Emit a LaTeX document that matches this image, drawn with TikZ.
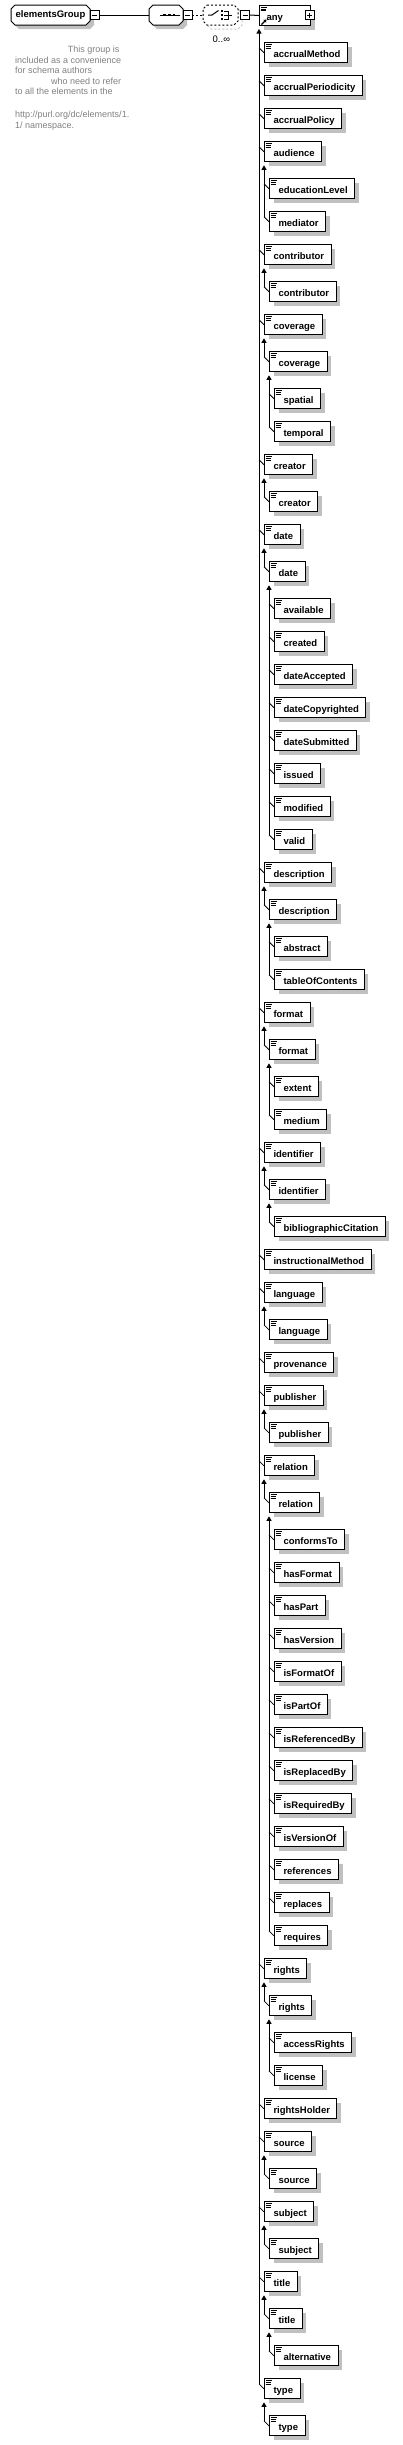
\documentclass[tikz,border=0pt]{standalone}
\usepackage{fontspec}
\setmainfont{Liberation Sans}
\usetikzlibrary{shadows,arrows.meta}
\definecolor{shadowgray}{RGB}{192,192,192}
\definecolor{notegray}{RGB}{128,128,128}
\newcommand\elemfont{\bfseries\fontsize{9.5}{11}\selectfont}
\newcommand\notefont{\fontsize{9}{11}\selectfont}
\newcommand\el[4]{\node[elem] (#1) at (#2,#3) {\hspace*{2pt}#4};
  \draw[tick] ([xshift=-5pt,yshift=-5.5pt]#1.north west) -- (#1.west);}
\newcommand\br[2]{\draw[branch] ([xshift=-5pt,yshift=-5.5pt]#2.north west) -- ([yshift=-3pt]#1.south west);}
% octagon outline: x1 y1 x2 y2 chamfer
\newcommand\octpath[5]{(#1+#5,#2) -- (#3-#5,#2) -- (#3,#2+#5) -- (#3,#4-#5) -- (#3-#5,#4) -- (#1+#5,#4) -- (#1,#4-#5) -- (#1,#2+#5) -- cycle}
\begin{document}
\begin{tikzpicture}[x=1pt,y=-1pt,line join=miter,
  elem/.style={draw, line width=1pt, fill=white, anchor=north west, inner ysep=0pt, inner xsep=7pt,
    text height=15pt, text depth=5pt, font=\elemfont,
    general shadow={fill=shadowgray, shadow xshift=4pt, shadow yshift=-4pt},
    path picture={\draw[line width=0.8pt]
      ([xshift=1pt,yshift=-1.7pt]path picture bounding box.north west) -- ++(6.5pt,0pt)
      ([xshift=1pt,yshift=-3.4pt]path picture bounding box.north west) -- ++(5.2pt,0pt)
      ([xshift=1pt,yshift=-5.1pt]path picture bounding box.north west) -- ++(5.2pt,0pt);}},
  tick/.style={line width=0.8pt},
  branch/.style={line width=1pt, -{Triangle[length=4.5pt,width=5pt]}},
  pmbox/.style={draw, fill=white, line width=0.9pt, minimum size=9pt, inner sep=0pt},
  minus/.style={pmbox, path picture={\draw[line width=0.9pt]
      ([xshift=2pt]path picture bounding box.west) -- ([xshift=-2pt]path picture bounding box.east);}},
  plus/.style={pmbox, path picture={\draw[line width=0.9pt]
      ([xshift=2pt]path picture bounding box.west) -- ([xshift=-2pt]path picture bounding box.east)
      ([yshift=-2pt]path picture bounding box.north) -- ([yshift=2pt]path picture bounding box.south);}},
  anchorbox/.style={minimum height=20pt, inner sep=0pt},
  note/.style={anchor=base west, inner sep=0pt, text=notegray, font=\notefont}
]
\useasboundingbox (0,0) rectangle (402,2445);

% top row: group
\fill[shadowgray] \octpath{15}{9}{94}{29}{4};
\draw[line width=1pt, fill=white] \octpath{11}{5}{90}{25}{4};
\node[anchorbox, minimum width=79pt, font=\elemfont] (grp) at (50.5,15) {elementsGroup};
\node[minus] (gm) at (94.5,15) {};
% sequence
\fill[shadowgray] \octpath{153}{9}{187}{29}{4};
\draw[line width=1pt, fill=white] \octpath{149}{5}{183}{25}{4};
\node[anchorbox, minimum width=34pt] (seq) at (166,15) {};
\node[minus] (sm) at (187.5,15) {};
% choice (optional -> dashed)
\draw[line width=1pt, shadowgray, dash pattern=on 2pt off 2pt] \octpath{207}{9}{242}{29}{4};
\draw[line width=1pt, fill=white, dash pattern=on 2pt off 2pt] \octpath{203}{5}{238}{25}{4};
\node[anchorbox, minimum width=35pt] (ch) at (220.5,15) {};
\node[minus] (cm) at (245,15) {};
% any
\node[elem, minimum width=51pt, text width=37pt, align=left] (any) at (259,5) {any};
\node[plus] (ap) at (309.5,15) {};
\draw[line width=1.3pt, -{Triangle[length=2.6pt,width=3.6pt]}] ([xshift=2.5pt,yshift=1.5pt]any.south west) -- ++(5pt,5pt);

\draw[line width=1pt] (gm.east) -- (seq.west);
\draw[line width=1pt, dash pattern=on 2pt off 2pt] (sm.east) -- (ch.west);
\draw[line width=1pt] (cm.east) -- (any.west);

% sequence symbol
\draw[line width=1pt] (160,15) -- (180,15);
\foreach \xx in {164.7,169.3,174}{\fill (\xx-1.4,13.6) rectangle (\xx+1.4,16.4);}
% choice symbol
\draw[line width=1pt] (208,15) -- (212,15) -- (218.5,10.5);
\foreach \yy in {11,15,19}{\fill (220.6,\yy-1.4) rectangle (223.4,\yy+1.4);}
\draw[line width=0.9pt] (224,11) -- (228,11) -- (228,19) -- (224,19) (224,15) -- (232,15);
\node[anchor=base west, inner sep=0pt, font=\fontsize{9.5}{11}\selectfont] (occ) at (212.5,42) {0..∞};

% annotation
\node[note] (n1) at (67.7,52) {This group is};
\node[note] (n2) at (15,63) {included as a convenience};
\node[note] (n3) at (15,73.5) {for schema authors};
\node[note] (n4) at (51,84) {who need to refer};
\node[note] (n5) at (15,94.5) {to all the elements in the};
\node[note] (n6) at (15,117.5) {http://purl.org/dc/elements/1.};
\node[note] (n7) at (15,128.5) {1/ namespace.};

% elements
\el{e1}{264}{42.3}{accrualMethod}
\el{e2}{264}{75.3}{accrualPeriodicity}
\el{e3}{264}{108.3}{accrualPolicy}
\el{e4}{264}{141.3}{audience}
\el{e5}{269}{178.3}{educationLevel}
\el{e6}{269}{211.3}{mediator}
\el{e7}{264}{244.3}{contributor}
\el{e8}{269}{281.3}{contributor}
\el{e9}{264}{314.3}{coverage}
\el{e10}{269}{351.3}{coverage}
\el{e11}{274}{388.3}{spatial}
\el{e12}{274}{421.3}{temporal}
\el{e13}{264}{454.3}{creator}
\el{e14}{269}{491.3}{creator}
\el{e15}{264}{524.3}{date}
\el{e16}{269}{561.3}{date}
\el{e17}{274}{598.3}{available}
\el{e18}{274}{631.3}{created}
\el{e19}{274}{664.3}{dateAccepted}
\el{e20}{274}{697.3}{dateCopyrighted}
\el{e21}{274}{730.3}{dateSubmitted}
\el{e22}{274}{763.3}{issued}
\el{e23}{274}{796.3}{modified}
\el{e24}{274}{829.3}{valid}
\el{e25}{264}{862.3}{description}
\el{e26}{269}{899.3}{description}
\el{e27}{274}{936.3}{abstract}
\el{e28}{274}{969.3}{tableOfContents}
\el{e29}{264}{1002.3}{format}
\el{e30}{269}{1039.3}{format}
\el{e31}{274}{1076.3}{extent}
\el{e32}{274}{1109.3}{medium}
\el{e33}{264}{1142.3}{identifier}
\el{e34}{269}{1179.3}{identifier}
\el{e35}{274}{1216.3}{bibliographicCitation}
\el{e36}{264}{1249.3}{instructionalMethod}
\el{e37}{264}{1282.3}{language}
\el{e38}{269}{1319.3}{language}
\el{e39}{264}{1352.3}{provenance}
\el{e40}{264}{1385.3}{publisher}
\el{e41}{269}{1422.3}{publisher}
\el{e42}{264}{1455.3}{relation}
\el{e43}{269}{1492.3}{relation}
\el{e44}{274}{1529.3}{conformsTo}
\el{e45}{274}{1562.3}{hasFormat}
\el{e46}{274}{1595.3}{hasPart}
\el{e47}{274}{1628.3}{hasVersion}
\el{e48}{274}{1661.3}{isFormatOf}
\el{e49}{274}{1694.3}{isPartOf}
\el{e50}{274}{1727.3}{isReferencedBy}
\el{e51}{274}{1760.3}{isReplacedBy}
\el{e52}{274}{1793.3}{isRequiredBy}
\el{e53}{274}{1826.3}{isVersionOf}
\el{e54}{274}{1859.3}{references}
\el{e55}{274}{1892.3}{replaces}
\el{e56}{274}{1925.3}{requires}
\el{e57}{264}{1958.3}{rights}
\el{e58}{269}{1995.3}{rights}
\el{e59}{274}{2032.3}{accessRights}
\el{e60}{274}{2065.3}{license}
\el{e61}{264}{2098.3}{rightsHolder}
\el{e62}{264}{2131.3}{source}
\el{e63}{269}{2168.3}{source}
\el{e64}{264}{2201.3}{subject}
\el{e65}{269}{2238.3}{subject}
\el{e66}{264}{2271.3}{title}
\el{e67}{269}{2308.3}{title}
\el{e68}{274}{2345.3}{alternative}
\el{e69}{264}{2378.3}{type}
\el{e70}{269}{2415.3}{type}

% branch lines
\br{any}{e69}
\br{e4}{e6}
\br{e7}{e8}
\br{e9}{e10}
\br{e10}{e12}
\br{e13}{e14}
\br{e15}{e16}
\br{e16}{e24}
\br{e25}{e26}
\br{e26}{e28}
\br{e29}{e30}
\br{e30}{e32}
\br{e33}{e34}
\br{e34}{e35}
\br{e37}{e38}
\br{e40}{e41}
\br{e42}{e43}
\br{e43}{e56}
\br{e57}{e58}
\br{e58}{e60}
\br{e62}{e63}
\br{e64}{e65}
\br{e66}{e67}
\br{e67}{e68}
\br{e69}{e70}
\end{tikzpicture}
\end{document}
